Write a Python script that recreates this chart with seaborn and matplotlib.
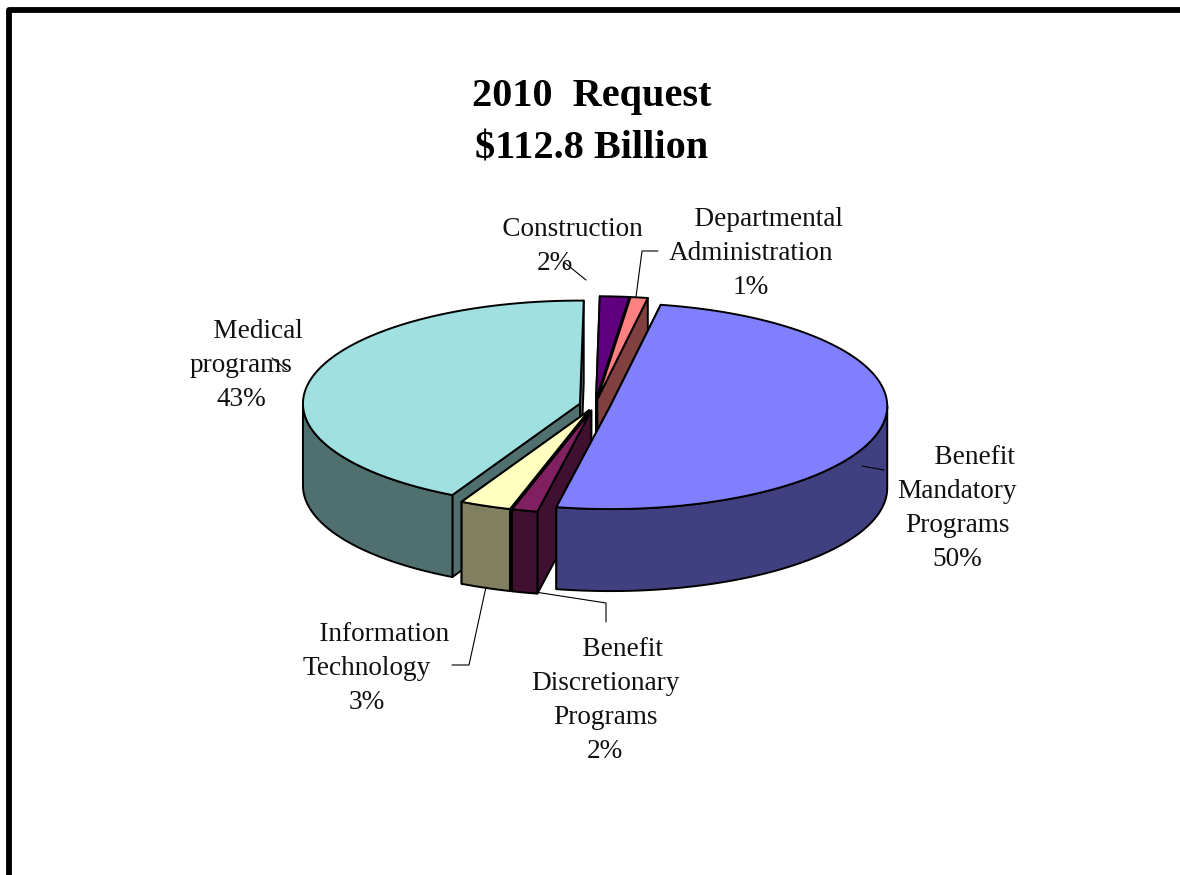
import numpy as np
import matplotlib
matplotlib.use("Agg")
import matplotlib.pyplot as plt
import seaborn as sns

# clockwise from the top of the pie, shares
slice_names = ["Benefit Mandatory", "Benefit Discretionary", "Information Technology",
               "Medical programs", "Construction", "Departmental Administration"]
shares = [50.2, 1.5, 3.0, 42.6, 1.7, 1.0]
top_colors = ["#8080FF", "#802060", "#FFFFC0", "#A0E0E0", "#600080", "#FF8080"]
labels = ["     Benefit\nMandatory\nPrograms\n50%",
          "     Benefit\nDiscretionary\nPrograms\n2%",
          "     Information\nTechnology\n3%",
          "     Medical\nprograms\n43%",
          "     Construction\n2%",
          "     Departmental\nAdministration\n1%"]
title = "2010  Request\n$112.8 Billion"

label_xy = [(957, 508.5), (605, 700.5), (367, 668.5), (241, 365.5), (555, 246.5), (751, 253.5)]
leaders = [([862, 884], [466, 470]),
           ([606, 606, 535], [622, 603, 592]),
           ([452, 469, 486], [665, 665, 587]),
           ([272, 287], [358, 370]),
           ([565, 586], [263, 280]),
           ([658, 642, 636], [251, 251, 297])]

cx, cy = 595, 405
rx, ry = 277, 103
depth = 82
explode = 0.056
start_angle = 10.5
draw_order = [3, 4, 5, 2, 1, 0]

sns.set_theme(style="white", font="Liberation Serif")
palette = sns.color_palette(top_colors)

fig, ax = plt.subplots(figsize=(11.8, 8.75), dpi=100)
ax.set_position([0, 0, 1, 1])
ax.set_xlim(0, 1180)
ax.set_ylim(875, 0)
ax.axis("off")

spans = np.array(shares) / np.sum(shares) * 360
ends = start_angle + np.cumsum(spans)
starts = ends - spans


def rim(x0, y0, angles):
    t = np.radians(angles)
    return x0 + rx * np.sin(t), y0 - ry * np.cos(t)


def face(xs, ys, color):
    ax.fill(xs, ys, facecolor=color, edgecolor="black", linewidth=1.4, joinstyle="round")


for i in draw_order:
    a, b = starts[i], ends[i]
    mid_deg = (a + b) / 2
    mid = np.radians(mid_deg)
    x0 = cx + explode * rx * np.sin(mid)
    y0 = cy - explode * ry * np.cos(mid)
    side = tuple(c * 0.5 for c in palette[i])

    # the two cut faces first, the top covers what should be hidden
    # the face turned to the viewer goes last
    cuts = (b, a) if 180 < mid_deg < 360 else (a, b)
    for ang in cuts:
        xo, yo = rim(x0, y0, np.array([ang]))
        face([x0, xo[0], xo[0], x0], [y0, yo[0], yo[0] + depth, y0 + depth], side)

    lo, hi = max(a, 90), min(b, 270)
    if hi > lo:
        xw, yw = rim(x0, y0, np.linspace(lo, hi, 60))
        face(np.r_[xw, xw[::-1]], np.r_[yw, yw[::-1] + depth], side)

    xt, yt = rim(x0, y0, np.linspace(a, b, 120))
    face(np.r_[x0, xt], np.r_[y0, yt], palette[i])

for xs, ys in leaders:
    ax.plot(xs, ys, color="black", linewidth=0.8, solid_joinstyle="miter")

for text, (x, y) in zip(labels, label_xy):
    ax.text(x, y, text, ha="center", va="center", fontsize=19.6, linespacing=1.49, color="#111111")

ax.text(592, 123, title, ha="center", va="center", fontsize=29, fontweight="bold",
        linespacing=1.55, color="black")

# picture frame: only left and top are thick, right is a faint hairline
ax.plot([8.5, 8.5, 1180], [875, 10, 10], color="black", linewidth=4.2, solid_joinstyle="round")
ax.plot([1179.5, 1179.5], [13, 875], color="#dddddd", linewidth=0.7)

fig.savefig("out.png", dpi=100)
